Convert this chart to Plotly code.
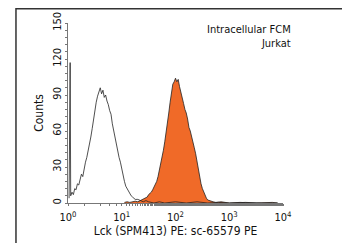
import plotly.graph_objects as go

# log10 fluorescence channel positions and counts
ctrl_log = [0.02, 0.035, 0.04, 0.05, 0.075, 0.100, 0.125, 0.150, 0.175, 0.200, 0.225, 0.250, 0.275,
            0.300, 0.325, 0.350, 0.375, 0.400, 0.425, 0.450, 0.475, 0.500, 0.525, 0.550,
            0.575, 0.600, 0.625, 0.650, 0.675, 0.700, 0.725, 0.750, 0.775, 0.800, 0.825,
            0.850, 0.875, 0.900, 0.925, 0.950, 0.975, 1.000, 1.025, 1.050, 1.075, 1.100,
            1.125, 1.150, 1.175, 1.200, 1.250, 1.300, 1.350, 1.400, 1.450, 1.500, 1.600,
            1.700, 1.800, 2.000, 2.200, 2.400, 2.600, 2.800, 3.000, 3.300, 3.600, 3.900]
ctrl_cnt = [4, 117, 117, 6, 9, 7, 12, 11, 16, 15, 21, 24, 22,
            30, 34, 38, 43, 50, 55, 62, 70, 76, 84, 89,
            92, 96, 91, 94, 88, 90, 85, 82, 77, 74, 66,
            60, 55, 48, 44, 38, 34, 28, 22, 18, 14, 12,
            9, 8, 6, 5, 3, 3, 2, 1, 2, 1, 0,
            1, 0, 1, 0, 1, 0, 0.5, 0, 0.5, 0, 0]

lck_log = [1.05, 1.10, 1.15, 1.20, 1.25, 1.30, 1.35, 1.40, 1.425, 1.45, 1.475, 1.50, 1.525,
           1.55, 1.575, 1.60, 1.625, 1.65, 1.675, 1.70, 1.725, 1.75, 1.775, 1.80, 1.825,
           1.85, 1.875, 1.90, 1.925, 1.95, 1.975, 2.000, 2.025, 2.050, 2.075, 2.100, 2.125,
           2.150, 2.175, 2.200, 2.225, 2.250, 2.275, 2.300, 2.325, 2.350, 2.375, 2.400,
           2.425, 2.450, 2.475, 2.500, 2.525, 2.550, 2.575, 2.600, 2.650, 2.700, 2.750,
           2.850, 3.000, 3.200, 3.500, 3.800, 3.900]
lck_cnt = [0.5, 1, 0.5, 1, 1.5, 1, 2, 3, 3.5, 4.5, 5, 7, 8,
           9, 11, 13, 15, 18, 22, 27, 32, 37, 44, 51, 58,
           66, 75, 84, 93, 99, 101, 104, 101, 103, 97, 93, 88,
           83, 78, 75, 70, 63, 60, 56, 51, 46, 41, 34,
           27, 21, 16, 12, 9, 6, 4, 2.5, 1.5, 1, 0.5,
           1, 0, 0.5, 0, 0.5, 0]

x_tickvals = [1, 10, 100, 1000, 10000]
x_ticktext = ["10<sup>0</sup>", "10<sup>1</sup>", "10<sup>2</sup>", "10<sup>3</sup>", "10<sup>4</sup>"]
y_tickvals = [0, 30, 60, 90, 120, 150]

FONT = "Liberation Sans Narrow, DejaVu Sans Condensed, Arial Narrow, sans-serif"
AXIS = "#777777"
TEXT = "#111111"

fig = go.Figure()
fig.add_trace(go.Scatter(
    x=[10 ** v for v in lck_log], y=lck_cnt, mode="lines",
    line=dict(color="#222222", width=0.8), fill="tozeroy", fillcolor="#F06A28",
    hoverinfo="skip"))
fig.add_trace(go.Scatter(
    x=[10 ** v for v in ctrl_log], y=ctrl_cnt, mode="lines",
    line=dict(color="#222222", width=0.8), hoverinfo="skip"))

fig.update_layout(
    width=350, height=243,
    margin=dict(l=60, r=75, t=15, b=48),
    paper_bgcolor="white", plot_bgcolor="white",
    showlegend=False,
    font=dict(family=FONT, color=TEXT, size=10),
    xaxis=dict(
        type="log", range=[0, 4], tickvals=x_tickvals, ticktext=x_ticktext,
        automargin=False,
        showline=True, linecolor=AXIS, linewidth=1, ticks="outside", ticklen=2,
        tickcolor=AXIS, showgrid=False, zeroline=False, ticklabelstandoff=2,
        minor=dict(ticks="outside", ticklen=2, tickcolor=AXIS, showgrid=False),
        tickfont=dict(size=11, family=FONT, color=TEXT),
        title=dict(text="Lck (SPM413) PE: sc-65579 PE", font=dict(size=12, family=FONT, color=TEXT), standoff=3),
    ),
    yaxis=dict(
        range=[0, 150], tickvals=y_tickvals, tickangle=-90,
        automargin=False,
        showline=True, linecolor=AXIS, linewidth=1, ticks="outside", ticklen=2,
        tickcolor=AXIS, showgrid=False, zeroline=False, ticklabelstandoff=0,
        minor=dict(ticks="outside", ticklen=2, dtick=6, tickcolor=AXIS, showgrid=False),
        tickfont=dict(size=11, family=FONT, color=TEXT),
        title=dict(text="Counts", font=dict(size=12, family=FONT, color=TEXT), standoff=4),
    ),
    shapes=[dict(type="rect", xref="paper", yref="paper",
                 x0=-0.242, x1=1.288, y0=-0.35, y1=1.079,
                 line=dict(color="#333333", width=1.5), layer="below")],
    annotations=[dict(xref="paper", yref="paper", x=1.045, y=1.01, xanchor="right", yanchor="top",
                      text="Intracellular FCM<br>Jurkat", align="right", showarrow=False,
                      font=dict(size=11, family=FONT, color=TEXT))],
)

fig.write_html("out.html")
